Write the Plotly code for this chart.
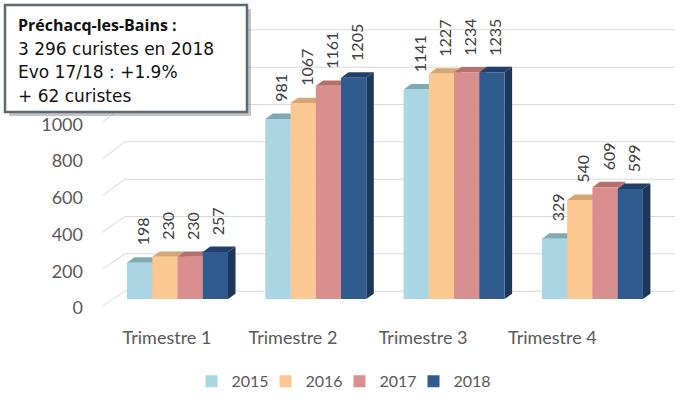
import plotly.graph_objects as go

# ---------------- data ----------------
categories = ["Trimestre 1", "Trimestre 2", "Trimestre 3", "Trimestre 4"]
years = ["2015", "2016", "2017", "2018"]
v2015 = [198, 981, 1141, 329]
v2016 = [230, 1067, 1227, 540]
v2017 = [230, 1161, 1234, 609]
v2018 = [257, 1205, 1235, 599]
grid_ticks = [0, 200, 400, 600, 800, 1000, 1200, 1400]
label_ticks = [0, 200, 400, 600, 800, 1000]   # 1200/1400 hidden behind the box
box_title = "<b>Préchacq-les-Bains :</b>"
box_lines = ["3 296 curistes en 2018", "Evo 17/18 : +1.9%", "+ 62 curistes"]

series = [v2015, v2016, v2017, v2018]
front_colors = ["#a9d6e2", "#fcc892", "#d98f8e", "#305b8f"]
top_colors = ["#7fa9b2", "#d5a673", "#b56f6d", "#213f68"]
side_colors = ["#86b0b9", "#d9a874", "#b06a68", "#1d375a"]
legend_widths = [29, 29, 29, 40]

# ---------------- geometry (pixels) ----------------
W, H = 683, 401
ML, MR, MT, MB = 100, 3, 5, 89
PW, PH = W - ML - MR, H - MT - MB
DOM_BOTTOM = H - MB
FRONT0, FRONT_K = 302, 0.1855
BACK0, BACK_K = 294, 0.1885
LABEL0 = 308
CAT0, CAT_STEP = 177.5, 138.3
BAR_PX = 25.25
DX_PX, DY_PX = 7.5, 5.5
LABEL_SHIFT_PX = [-10.5, -22.8, -31.0, -40.0]

def px2x(px):
    return (px - CAT0) / CAT_STEP

def px2y(py):
    return (FRONT0 - py) / FRONT_K

def pxpaper_x(px):
    return (px - ML) / PW

def pxpaper_y(py):
    return (DOM_BOTTOM - py) / PH

bw = BAR_PX / CAT_STEP
dx = DX_PX / CAT_STEP
dy = DY_PX / FRONT_K

fig = go.Figure()
shapes = []
annotations = []

for t in grid_ticks:
    yb = px2y(BACK0 - BACK_K * t)
    yl = px2y(LABEL0 - FRONT_K * t + 1)
    shapes.append(dict(type="line", xref="paper", yref="y",
                       x0=pxpaper_x(125), x1=pxpaper_x(675), y0=yb, y1=yb,
                       line=dict(color="#d9d9d9", width=1), layer="below"))
    shapes.append(dict(type="line", xref="paper", yref="y",
                       x0=pxpaper_x(102), x1=pxpaper_x(125), y0=yl, y1=yb,
                       line=dict(color="#d9d9d9", width=1), layer="below"))

for k, (yr, vals) in enumerate(zip(years, series)):
    xs = [i + (k - 1.5) * bw for i in range(len(categories))]
    fig.add_trace(go.Bar(
        x=xs, y=vals, width=bw, name=yr, legendwidth=legend_widths[k],
        marker=dict(color=front_colors[k], line=dict(width=0)),
        hoverinfo="skip",
    ))
    for x, v in zip(xs, vals):
        xl, xr = x - bw / 2, x + bw / 2
        shapes.append(dict(
            type="path", xref="x", yref="y", layer="below",
            path=f"M{xr},{0} L{xr+dx},{dy} L{xr+dx},{v+dy} L{xr},{v} Z",
            fillcolor=side_colors[k], line=dict(width=0)))
        shapes.append(dict(
            type="path", xref="x", yref="y", layer="below",
            path=f"M{xl},{v} L{xr},{v} L{xr+dx},{v+dy} L{xl+dx},{v+dy} Z",
            fillcolor=top_colors[k], line=dict(width=0)))
        annotations.append(dict(
            x=x, y=v, xref="x", yref="y", text=str(v), showarrow=False,
            textangle=-90, yanchor="bottom", xanchor="center",
            yshift=15, xshift=3,
            font=dict(family="Lato", size=16, color="#404040")))

# text box with shadow
bx0, by0, bx1, by1 = 5, 5, 247, 113
shapes.append(dict(type="rect", xref="paper", yref="paper", layer="above",
                   x0=pxpaper_x(bx0 + 4), x1=pxpaper_x(bx1 + 4),
                   y0=pxpaper_y(by1 + 4), y1=pxpaper_y(by0 + 4),
                   fillcolor="rgba(90,90,90,0.35)", line=dict(width=0)))
shapes.append(dict(type="rect", xref="paper", yref="paper", layer="above",
                   x0=pxpaper_x(bx0), x1=pxpaper_x(bx1),
                   y0=pxpaper_y(by1), y1=pxpaper_y(by0),
                   fillcolor="white", line=dict(color="#5e6a73", width=2.5)))
annotations.append(dict(
    x=pxpaper_x(16), y=pxpaper_y(25), xref="paper", yref="paper",
    text=box_title, showarrow=False, xanchor="left", yanchor="middle",
    font=dict(family="Open Sans", size=16, color="#111111")))
for j, line in enumerate(box_lines):
    annotations.append(dict(
        x=pxpaper_x(16), y=pxpaper_y(49 + 24 * j), xref="paper", yref="paper",
        text=line, showarrow=False, xanchor="left", yanchor="middle",
        font=dict(family="DejaVu Sans", size=17, color="#111111")))

tick_x = [i + px2x(CAT0 + s) for i, s in enumerate(LABEL_SHIFT_PX)]

fig.update_layout(
    width=W, height=H,
    margin=dict(l=ML, r=MR, t=MT, b=MB),
    paper_bgcolor="white", plot_bgcolor="white",
    barmode="overlay",
    showlegend=True,
    legend=dict(orientation="h", x=pxpaper_x(345), xanchor="center",
                y=pxpaper_y(385), yanchor="middle",
                entrywidthmode="pixels",
                font=dict(family="Lato", size=16, color="#595959"),
                traceorder="normal"),
    xaxis=dict(range=[px2x(ML), px2x(W - MR)], tickvals=tick_x,
               ticktext=categories, showgrid=False, zeroline=False,
               showline=False, ticks="", ticklabelstandoff=16,
               tickfont=dict(family="Lato", size=18, color="#595959")),
    yaxis=dict(range=[px2y(DOM_BOTTOM), px2y(MT)], tickvals=label_ticks,
               showgrid=False, zeroline=False, showline=False, ticks="",
               ticklabelstandoff=16, ticklabelshift=9,
               tickfont=dict(family="Lato", size=18, color="#595959")),
    shapes=shapes,
    annotations=annotations,
)

fig.write_html("out.html")
